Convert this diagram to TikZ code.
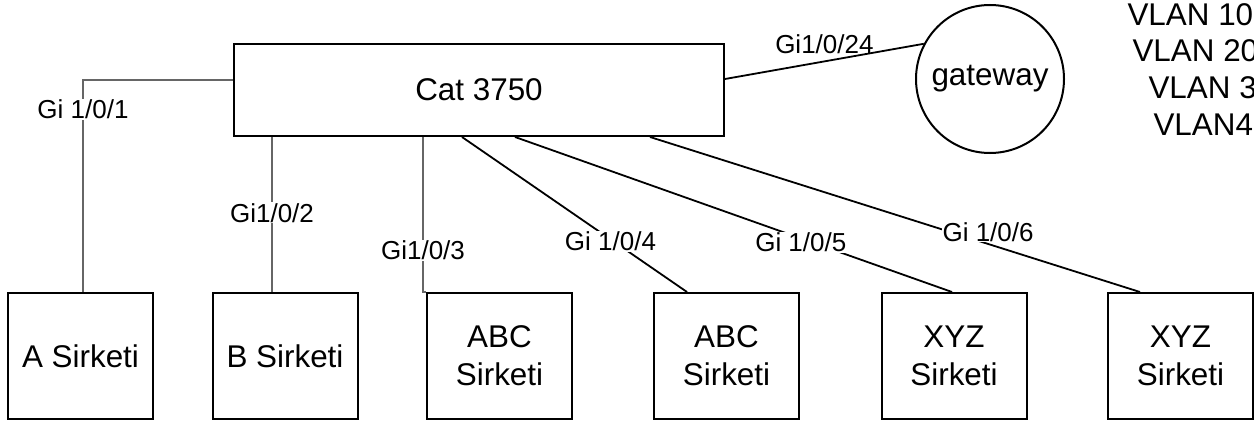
\documentclass[tikz,border=0pt]{standalone}
\usepackage{fontspec}
\setmainfont{Liberation Sans}
\newcommand\bigtext{\fontsize{31.4}{38}\selectfont}
\newcommand\porttext{\fontsize{26}{30}\selectfont}
\begin{document}
\begin{tikzpicture}[x=1pt,y=-1pt,
  sirket/.style={draw,line width=2pt,minimum width=145pt,minimum height=126pt,inner sep=0pt,align=center,font=\bigtext},
  port/.style={draw=black!60,line width=1.2pt},
  link/.style={draw,line width=1.8pt},
  lbl/.style={fill=white,inner sep=1pt,font=\porttext}]
  \useasboundingbox (0,0) rectangle (1254,423);

  \node [draw,line width=2pt,minimum width=490pt,minimum height=92pt,font=\bigtext] (cat) at (479,90) {Cat 3750};
  \node [draw,circle,line width=2pt,minimum size=148pt,inner sep=0pt,font=\bigtext] (gw) at (990,79) {gateway};

  \node [sirket] (sa) at (80.5,356) {A Sirketi};
  \node [sirket] (sb) at (285,356) {B Sirketi};
  \node [sirket] (sc) at (499.5,356) {ABC\\Sirketi};
  \node [sirket] (sd) at (726.5,356) {ABC\\Sirketi};
  \node [sirket] (se) at (954,356) {XYZ\\Sirketi};
  \node [sirket] (sf) at (1180.5,356) {XYZ\\Sirketi};

  % gray ports
  \draw [port] ([yshift=10pt]cat.west) -| ([xshift=2.5pt]sa.north) node [lbl,pos=.57] {Gi 1/0/1};
  \draw [port] ([xshift=-13pt]sb.north) -- ([xshift=-13pt]sb.north |- cat.south) node [lbl,pos=.51] {Gi1/0/2};
  \draw [port] ([xshift=-3pt]sc.north west |- cat.south) -- node [lbl,pos=.73] {Gi1/0/3} ([xshift=-3pt]sc.north west) -- (sc.north west);

  % black links
  \draw [link] ([xshift=-17pt]cat.south) -- ([xshift=-39.5pt]sd.north) node [lbl,pos=.66,yshift=-2pt] {Gi 1/0/4};
  \draw [link] ([xshift=36pt]cat.south) -- ([xshift=-2pt]se.north) node [lbl,pos=.654,yshift=-4pt] {Gi 1/0/5};
  \draw [link] ([xshift=171pt]cat.south) -- ([xshift=-40.5pt]sf.north) node [lbl,pos=.69,yshift=12pt] {Gi 1/0/6};
  \draw [link] ([yshift=11pt]cat.east) -- (gw.152) node [pos=.5,yshift=17pt,inner sep=1pt,font=\porttext] {Gi1/0/24};

  \node [anchor=base west,font=\bigtext] (v10) at (1124,25) {VLAN 10};
  \node [anchor=base west,font=\bigtext] (v20) at (1129,61) {VLAN 20};
  \node [anchor=base west,font=\bigtext] (v30) at (1145,98) {VLAN 3};
  \node [anchor=base west,font=\bigtext] (v40) at (1150,135) {VLAN4};
\end{tikzpicture}
\end{document}
